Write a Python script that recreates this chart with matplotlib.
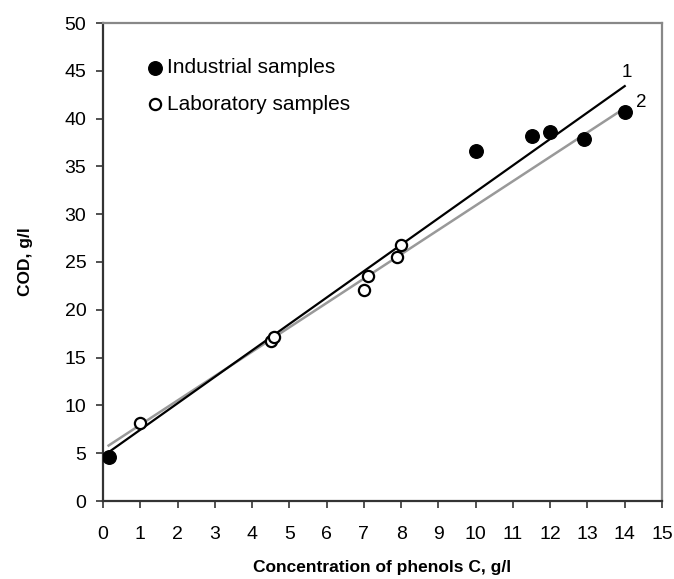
import matplotlib
matplotlib.use("Agg")
import matplotlib.pyplot as plt

plt.rcParams['font.family'] = ['Liberation Sans', 'DejaVu Sans']

# Data
ind_x = [0.15, 10.0, 11.5, 12.0, 12.9, 14.0]
ind_y = [4.6, 36.6, 38.2, 38.6, 37.9, 40.7]
lab_x = [1.0, 4.5, 4.6, 7.0, 7.1, 7.9, 8.0]
lab_y = [8.2, 16.7, 17.2, 22.1, 23.5, 25.5, 26.8]
line1_x = [0.15, 14.0]
line1_y = [5.1, 43.4]
line2_x = [0.15, 14.0]
line2_y = [5.8, 41.1]
xticks = list(range(0, 16))
yticks = list(range(0, 51, 5))

fig = plt.figure(figsize=(6.74, 5.79), dpi=100)
ax = fig.add_axes([103/674, 1-501/579, (662-103)/674, (501-23)/579])

ax.plot(line2_x, line2_y, color='#999999', lw=1.8, zorder=2)
ax.plot(line1_x, line1_y, color='black', lw=1.6, zorder=3)
ax.scatter(ind_x, ind_y, s=95, color='black', zorder=4)
ax.scatter(lab_x, lab_y, s=65, facecolor='white', edgecolor='black', linewidths=1.6, zorder=4)

ax.text(14.05, 43.9, '1', fontsize=13.5, ha='center', va='bottom')
ax.text(14.3, 40.8, '2', fontsize=13.5, ha='left', va='bottom')

# legend (drawn in axes)
ax.scatter([1.4], [45.3], s=95, color='black')
ax.text(1.72, 45.3, 'Industrial samples', fontsize=15, va='center', ha='left')
ax.scatter([1.4], [41.5], s=65, facecolor='white', edgecolor='black', linewidths=1.6)
ax.text(1.72, 41.5, 'Laboratory samples', fontsize=15, va='center', ha='left')

ax.set_xlim(0, 15)
ax.set_ylim(0, 50)
ax.set_xticks(xticks)
ax.set_yticks(yticks)
ax.tick_params(axis='both', direction='out', length=5, width=1.2, color='#333333',
               labelsize=14, pad=13)
ax.tick_params(axis='y', pad=7)
for side in ['left', 'bottom']:
    ax.spines[side].set_color('#333333')
    ax.spines[side].set_linewidth(1.6)
for side in ['top', 'right']:
    ax.spines[side].set_color('#888888')
    ax.spines[side].set_linewidth(1.6)

ax.set_xlabel('Concentration of phenols C, g/l', fontsize=12.5, fontweight='bold', labelpad=12)
ax.set_ylabel('COD, g/l', fontsize=12.5, fontweight='bold', labelpad=23)

fig.savefig('out.png', dpi=100)
